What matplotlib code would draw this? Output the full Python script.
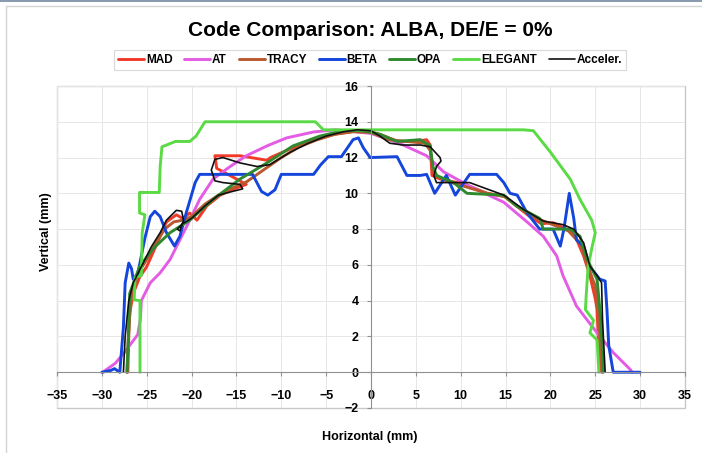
import matplotlib
matplotlib.use("Agg")
import matplotlib.pyplot as plt
from matplotlib.patches import Rectangle

plt.rcParams['font.family'] = ['Liberation Sans', 'DejaVu Sans']

title = "Code Comparison: ALBA, DE/E = 0%"
xlabel = "Horizontal (mm)"
ylabel = "Vertical (mm)"
xticks = [-35, -30, -25, -20, -15, -10, -5, 0, 5, 10, 15, 20, 25, 30, 35]
yticks = [-2, 0, 2, 4, 6, 8, 10, 12, 14, 16]

mad_x = [-27.1, -27.0, -26.9, -26.5, -25.8, -25.0, -24.2, -23.5, -22.8, -21.7, -21.0, -20.2, -19.4,
         -18.3, -16.8, -15.0, -13.9, -17.2, -17.4, -14.6, -11.6, -11.2, -9.4, -8.5, -7.2, -5.5, -4.2,
         -2.0, -0.5, 1.0, 3.0, 5.0, 6.2, 6.6, 6.8, 7.7, 9.6, 11.0, 12.9, 14.8, 16.2, 17.7, 19.0, 20.3,
         22.6, 23.7, 24.4, 25.0, 25.2, 25.4, 25.7]
mad_y = [0.0, 2.0, 3.3, 4.4, 5.3, 5.9, 6.8, 7.6, 8.4, 8.8, 8.6, 8.9, 8.5,
         9.3, 9.9, 10.3, 10.5, 11.4, 12.1, 12.1, 11.85, 12.0, 12.4, 12.6, 12.8, 13.1, 13.3,
         13.45, 13.5, 13.3, 12.9, 12.9, 13.0, 12.7, 11.0, 10.8, 10.6, 10.4, 10.0, 9.85, 9.3, 8.7, 8.3, 8.36,
         7.8, 6.5, 5.4, 4.1, 3.5, 1.0, 0.0]

at_x = [-29.9, -28.5, -27.5, -26.0, -25.7, -25.6, -24.6, -23.5, -22.4, -21.3, -20.2, -19.1, -17.6,
        -15.7, -13.9, -11.6, -9.4, -6.4, -4.0, -2.0, 0.0, 2.0, 3.6, 6.2, 8.1, 11.0, 14.8, 17.4, 19.2,
        20.7, 21.4, 22.9, 25.2, 27.0, 28.9, 29.1]
at_y = [0.0, 0.5, 1.1, 2.1, 3.0, 4.0, 5.0, 5.56, 6.3, 7.4, 8.5, 9.66, 10.8,
        11.5, 12.1, 12.65, 13.1, 13.43, 13.55, 13.45, 13.35, 13.0, 12.7, 12.1, 11.2, 10.4, 9.5, 8.4, 7.6,
        6.5, 5.4, 3.7, 2.2, 1.1, 0.15, 0.0]

tracy_x = [-27.2, -27.0, -26.7, -26.0, -25.0, -24.0, -23.0, -22.0, -21.0, -20.0, -18.5, -17.0, -15.0,
           -14.0, -12.0, -10.0, -8.0, -6.0, -4.0, -2.0, 0.0, 2.0, 4.0, 6.0, 6.6, 6.9, 7.5, 9.0, 11.0,
           13.0, 15.0, 16.5, 18.0, 20.0, 22.0, 23.3, 24.2, 25.0, 25.4, 25.6, 25.8]
tracy_y = [0.0, 2.5, 4.3, 5.5, 6.3, 7.2, 8.0, 8.4, 8.5, 8.7, 9.4, 9.9, 10.4,
           10.6, 11.3, 12.0, 12.6, 13.0, 13.3, 13.45, 13.4, 13.0, 12.9, 12.8, 12.4, 11.3, 10.9, 10.6, 10.3,
           10.0, 9.8, 9.2, 8.7, 8.3, 7.9, 7.2, 5.9, 4.8, 3.0, 1.0, 0.0]

beta_x = [-30.0, -29.0, -28.6, -28.0, -27.6, -27.4, -27.0, -26.7, -26.5, -26.0, -25.2, -24.6, -24.1,
          -23.5, -22.8, -21.9, -21.3, -20.6, -19.6, -19.1, -13.2, -12.2, -11.5, -10.7, -10.0, -6.4,
          -5.6, -4.75, -3.3, -2.0, -1.4, -0.86, -0.1, 2.9, 4.0, 5.5, 6.2, 7.1, 8.4, 9.4, 11.0, 14.0,
          14.8, 15.5, 16.3, 17.4, 18.8, 20.3, 21.1, 21.5, 22.1, 22.6, 22.9, 23.7, 24.4, 25.5, 26.1,
          26.3, 26.5, 27.0, 30.0]
beta_y = [0.0, 0.1, 0.2, 0.0, 2.5, 5.0, 6.1, 5.8, 5.2, 5.5, 7.5, 8.7, 9.0,
          8.7, 7.8, 7.05, 7.6, 8.9, 10.6, 11.06, 11.06, 10.1, 9.9, 10.2, 11.06, 11.06,
          11.6, 12.05, 12.05, 13.0, 13.1, 12.55, 12.0, 12.05, 11.0, 11.0, 11.06, 10.0, 11.0, 9.9, 11.06, 11.06,
          10.6, 10.0, 9.9, 8.9, 8.0, 8.0, 7.05, 8.0, 10.0, 8.6, 7.4, 7.05, 5.9, 5.2, 5.1,
          3.5, 1.5, 0.0, 0.0]

opa_x = [-27.2, -27.0, -26.9, -25.8, -24.3, -22.4, -20.2, -17.6, -14.6, -11.6, -8.7, -5.7, -3.1,
         -0.9, 1.0, 2.9, 5.5, 6.6, 6.9, 7.3, 9.2, 10.7, 14.8, 16.2, 18.8, 19.2, 22.2, 23.3, 24.1, 25.2,
         25.6, 25.9, 25.9]
opa_y = [0.0, 2.5, 4.4, 5.9, 6.9, 7.8, 8.5, 9.66, 10.8, 11.7, 12.65, 13.2, 13.5,
         13.5, 13.3, 12.9, 13.0, 12.65, 11.5, 11.0, 10.6, 10.0, 9.9, 9.3, 8.6, 8.0, 8.0, 7.6, 6.3, 5.2,
         3.0, 0.3, 0.0]

elegant_x = [-25.75, -25.75, -26.4, -26.3, -25.6, -25.5, -25.2, -25.8, -25.8, -23.6, -23.5, -23.3,
             -21.8, -20.2, -19.5, -18.5, -6.2, -5.3, 17.0, 18.1, 20.0, 22.2, 23.3, 24.6, 25.0, 24.6,
             24.2, 24.0, 23.9, 24.8, 24.4, 25.2, 25.4]
elegant_y = [0.0, 4.0, 4.05, 5.3, 5.4, 7.8, 8.8, 8.9, 10.05, 10.05, 11.5, 12.6,
             12.9, 12.9, 13.2, 14.0, 14.0, 13.55, 13.55, 13.5, 12.3, 10.8, 9.66, 8.5, 7.8, 6.9,
             5.9, 4.4, 3.5, 2.9, 2.2, 1.8, 0.0]

acc_x = [-27.6, -27.4, -27.0, -26.5, -25.5, -24.5, -23.5, -22.8, -21.7, -21.1, -20.9, -21.3, -21.6,
         -21.0, -20.0, -18.5, -17.0, -15.5, -14.3, -14.6, -16.5, -17.4, -17.8, -17.4, -16.5, -14.6,
         -12.7, -11.3, -9.0, -7.0, -5.0, -3.0, -1.5, 0.0, 1.0, 2.1, 3.6, 5.5, 6.6, 7.7, 7.8, 7.3, 7.0,
         7.3, 11.0, 14.8, 17.0, 19.2, 21.4, 22.6, 23.7, 24.4, 25.2, 25.7, 25.8, 26.0, 26.1]
acc_y = [0.0, 2.0, 4.0, 5.0, 6.0, 7.0, 7.8, 8.5, 9.05, 9.0, 8.5, 7.9, 8.0,
         8.3, 8.6, 9.3, 9.9, 10.1, 10.25, 10.5, 10.6, 10.7, 11.3, 11.9, 12.0, 11.7,
         11.5, 11.6, 12.3, 12.8, 13.2, 13.45, 13.55, 13.5, 13.2, 12.8, 12.7, 12.7, 12.6, 12.0, 11.8, 11.5, 11.0,
         10.6, 10.6, 9.9, 9.1, 8.45, 8.25, 8.0, 7.24, 5.93, 5.4, 5.0, 3.0, 1.0, 0.0]

series = [
    ("MAD", mad_x, mad_y, "#f23a2a", 2.1),
    ("AT", at_x, at_y, "#e35ce3", 2.1),
    ("TRACY", tracy_x, tracy_y, "#b8582e", 2.1),
    ("BETA", beta_x, beta_y, "#1446dc", 2.1),
    ("OPA", opa_x, opa_y, "#2f8a2f", 2.1),
    ("ELEGANT", elegant_x, elegant_y, "#5ada45", 2.1),
    ("Acceler.", acc_x, acc_y, "#111111", 1.2),
]

fig = plt.figure(figsize=(7.02, 4.53), dpi=100)
# outer chart border
fig.patches.append(Rectangle((6 / 702, -0.01), 1.0, 1 - 6 / 453 + 0.01, transform=fig.transFigure,
                             fill=False, edgecolor="#d4d4d4", linewidth=1.0))
fig.patches.append(Rectangle((0, 1 - 2 / 453), 1.0, 2 / 453, transform=fig.transFigure,
                             facecolor="#8a9bb0", edgecolor="none"))

ax = fig.add_axes([57 / 702, 1 - 408 / 453, 628 / 702, 322 / 453])

for name, xs, ys, col, lw in series:
    ax.plot(xs, ys, color=col, lw=lw, label=name, solid_joinstyle="round", solid_capstyle="round")

ax.set_xlim(-35, 35)
ax.set_ylim(-2, 16)
ax.set_xticks(xticks)
ax.set_yticks(yticks)
ax.grid(True, color="#e6e6e6", lw=0.7)
ax.set_axisbelow(True)

for s in ["top", "right"]:
    ax.spines[s].set_visible(False)
ax.spines["left"].set_position(("data", 0))
ax.spines["bottom"].set_position(("data", 0))
ax.spines["left"].set_color("#909090")
ax.spines["bottom"].set_color("#909090")
ax.add_patch(Rectangle((0, 0), 1, 1, transform=ax.transAxes, fill=False,
                       edgecolor="#c8c8c8", lw=1.0, clip_on=False, zorder=0.5))

ax.tick_params(axis="x", direction="out", length=3, color="#909090", pad=10, labelsize=9)
ax.tick_params(axis="y", direction="out", length=3, color="#909090", pad=6, labelsize=9)
for lab in ax.get_xticklabels() + ax.get_yticklabels():
    lab.set_fontweight("bold")

fig.text(0.527, 1 - 30 / 453, title, ha="center", va="center", fontsize=15, fontweight="bold")
fig.text(0.527, 1 - 437 / 453, xlabel, ha="center", va="center", fontsize=9, fontweight="bold")
fig.text(46 / 702, 1 - 232 / 453, ylabel, ha="center", va="center", rotation=90,
         fontsize=9, fontweight="bold")

leg = fig.legend(loc="center", bbox_to_anchor=(370 / 702, 1 - 60 / 453), ncol=7, frameon=True,
                 fancybox=False, edgecolor="#d0d0d0", handlelength=2.2, handletextpad=0.15,
                 columnspacing=1.0, borderpad=0.35, prop={"size": 8.5, "weight": "bold"})
leg.get_frame().set_linewidth(0.8)

fig.savefig("out.png", dpi=100)
